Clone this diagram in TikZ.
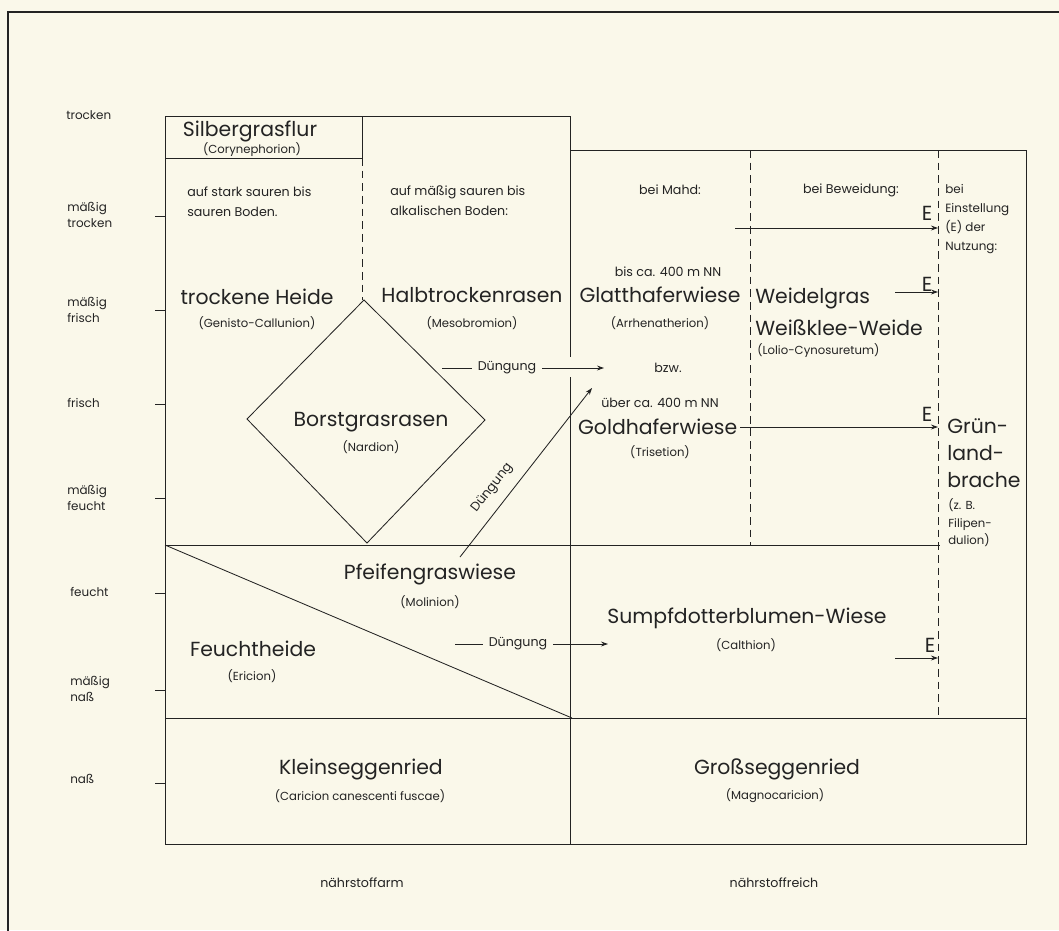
\documentclass[tikz,border=0pt]{standalone}
\usepackage{fontspec}
\setmainfont{Poppins}
\usetikzlibrary{arrows.meta}
\definecolor{paper}{RGB}{250,248,234}
\definecolor{ink}{RGB}{35,35,35}
\tikzset{
  big/.style={font=\fontsize{14.5}{17}\selectfont, inner sep=0pt},
  lat/.style={font=\fontsize{8.3}{11}\selectfont, inner sep=0pt},
  desc/.style={font=\fontsize{9}{14}\selectfont, inner sep=0pt, align=left},
  axis/.style={font=\fontsize{8.5}{11}\selectfont, inner sep=0pt, anchor=west, align=left},
  grid/.style={ink, semithick},
  dashline/.style={ink, semithick, dash pattern=on 5.5pt off 3.5pt},
}
\begin{document}
\begin{tikzpicture}[x=0.025cm, y=-0.025cm, >={Stealth[length=5pt,width=3.5pt]}, every node/.style={text=ink}]
	\fill[paper] (0,0) rectangle (1059,930);
	\useasboundingbox (0,0) rectangle (1059,930);
	\draw[ink,thick] (8,945) -- (8,12) -- (1075,12);

	\draw[grid] (165,844) -- (165,116) -- (570,116) -- (570,357);
	\draw[grid] (570,377) -- (570,844);
	\draw[grid] (570,150) -- (1026,150) -- (1026,844) -- (165,844);
	\draw[grid] (165,158) -- (362,158) -- (362,116);
	\draw[grid] (165,545) -- (940,545);
	\draw[grid] (165,718) -- (1026,718);
	\draw[grid] (165,545) -- (572,718);
	\draw[dashline] (362,158) -- (362,300);
	\draw[dashline] (750,150) -- (750,545);
	\draw[dashline] (938,150) -- (938,718);
	\draw[grid] (364,300) -- (485,420) -- (367,543) -- (247,419) -- cycle;
	\foreach \y in {216,310,404,498,593,690,783}
		\draw[grid] (155,\y) -- (165,\y);

	\node[axis] (trocken) at (66,115) {trocken};
	\node[axis] (mtrocken) at (67,215) {mäßig\\trocken};
	\node[axis] (mfrisch) at (67,310) {mäßig\\frisch};
	\node[axis] (frisch) at (67,403) {frisch};
	\node[axis] (mfeucht) at (67,498) {mäßig\\feucht};
	\node[axis] (feucht) at (70,592) {feucht};
	\node[axis] (mnass) at (70,689) {mäßig\\naß};
	\node[axis] (nass) at (70,779) {naß};

	\node[big] (silber) at (250,131) {Silbergrasflur};
	\node[lat] (silberlat) at (252,150) {(Corynephorion)};
	\node[desc,anchor=west] (auf1) at (187,202) {auf stark sauren bis\\sauren Boden.};
	\node[desc,anchor=west] (auf2) at (390,201) {auf mäßig sauren bis\\alkalischen Boden:};
	\node[big] (heide) at (257,297) {trockene Heide};
	\node[lat] (heidelat) at (257,323) {(Genisto-Callunion)};
	\node[big] (halb) at (472,295) {Halbtrockenrasen};
	\node[lat] (halblat) at (472,323) {(Mesobromion)};
	\node[big] (borst) at (371,422) {Borstgrasrasen};
	\node[lat] (borstlat) at (371,447) {(Nardion)};
	\node[big] (pfeifen) at (430,574) {Pfeifengraswiese};
	\node[lat] (pfeifenlat) at (430,602) {(Molinion)};
	\node[big] (feuchtheide) at (253,649) {Feuchtheide};
	\node[lat] (feuchtlat) at (252,676) {(Ericion)};

	\node[desc] (mahd) at (670,190) {bei Mahd:};
	\node[desc] (bis) at (668,272) {bis ca. 400 m NN};
	\node[big] (glatt) at (660,295) {Glatthaferwiese};
	\node[lat] (glattlat) at (660,323) {(Arrhenatherion)};
	\node[desc] (bzw) at (668,368) {bzw.};
	\node[desc] (ueber) at (660,403) {über ca. 400 m NN};
	\node[big,anchor=west,inner xsep=2pt] (gold) at (575,427) {Goldhaferwiese};
	\node[lat] (goldlat) at (660,452) {(Trisetion)};
	\node[desc] (beweid) at (851,190) {bei Beweidung:};
	\node[big,anchor=west,align=left,font=\fontsize{14.5}{22.8}\selectfont] (weidel) at (755,312) {Weidelgras\\Weißklee-Weide};
	\node[lat,anchor=west] (weidellat) at (757,351) {(Lolio-Cynosuretum)};
	\node[desc,anchor=west,font=\fontsize{8.5}{13.7}\selectfont] (einst) at (945,219) {bei\\Einstellung\\(E) der\\Nutzung:};
	\node[big,anchor=west,align=left,font=\fontsize{14.5}{19.2}\selectfont] (brache) at (947,453) {Grün-\\land-\\brache};
	\node[lat,anchor=west,align=left,font=\fontsize{8.3}{12.4}\selectfont] (brachelat) at (948,523) {(z. B.\\Filipen-\\dulion)};
	\node[big] (sumpf) at (747,618) {Sumpfdotterblumen-Wiese};
	\node[lat] (sumpflat) at (746,645) {(Calthion)};

	\node[big] (klein) at (361,769) {Kleinseggenried};
	\node[lat] (kleinlat) at (360,796) {(Caricion canescenti fuscae)};
	\node[big] (gross) at (777,769) {Großseggenried};
	\node[lat] (grosslat) at (775,796) {(Magnocaricion)};
	\node[desc] (arm) at (362,883) {nährstoffarm};
	\node[desc] (reich) at (774,883) {nährstoffreich};

	\coordinate (d1s) at (442,368);
	\coordinate (d1e) at (604,368);
	\node[desc,inner xsep=4pt] (dueng1) at (507,368) {Düngung};
	\draw[grid] (d1s) -- (dueng1);
	\draw[grid,->] (dueng1) -- (d1e);
	\coordinate (d2s) at (460,557);
	\coordinate (d2e) at (592,388);
	\draw[grid,->] (d2s) -- (d2e);
	\node[desc,rotate=52] (dueng2) at (492,488) {Düngung};
	\coordinate (d3s) at (455,644);
	\coordinate (d3e) at (608,644);
	\node[desc,inner xsep=4pt] (dueng3) at (518,644) {Düngung};
	\draw[grid] (d3s) -- (dueng3);
	\draw[grid,->] (dueng3) -- (d3e);

	\coordinate (e1s) at (735,228);
	\coordinate (e1e) at (938,228);
	\draw[grid,->] (e1s) -- (e1e);
	\node[big] (e1) at (927,213) {E};
	\coordinate (e2s) at (895,292);
	\coordinate (e2e) at (938,292);
	\draw[grid,->] (e2s) -- (e2e);
	\node[big] (e2) at (927,284) {E};
	\coordinate (e3e) at (938,427);
	\draw[grid,->] (gold) -- (e3e);
	\node[big] (e3) at (927,414) {E};
	\coordinate (e4s) at (895,658);
	\coordinate (e4e) at (938,658);
	\draw[grid,->] (e4s) -- (e4e);
	\node[big] (e4) at (930,645) {E};
\end{tikzpicture}
\end{document}
